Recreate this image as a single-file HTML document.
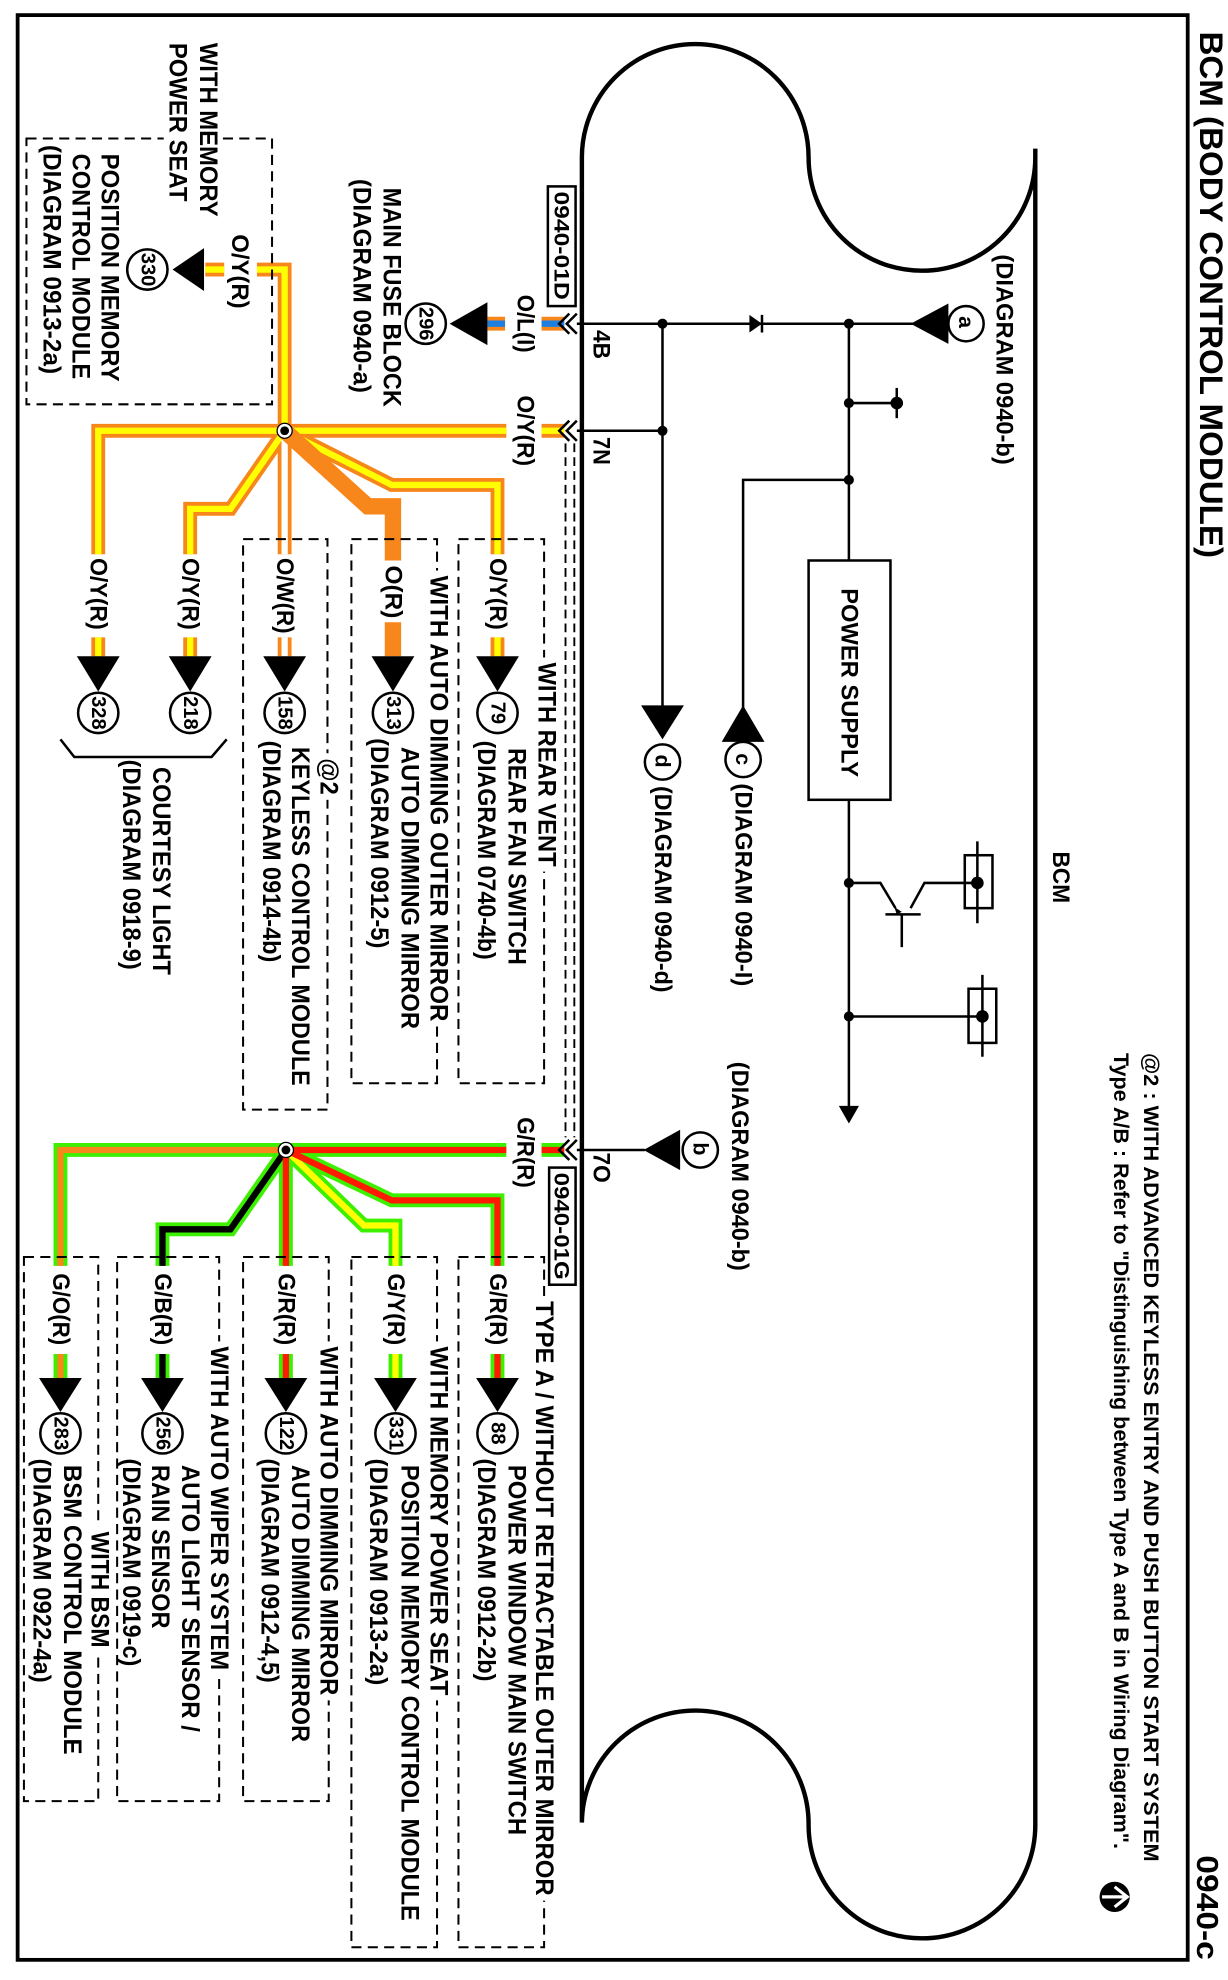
<!DOCTYPE html>
<html><head><meta charset="utf-8"><style>
html,body{margin:0;padding:0;background:#fff;}
svg{display:block;}
text{font-family:"Liberation Sans",sans-serif;font-weight:bold;fill:#000;}
</style></head><body>
<svg xmlns="http://www.w3.org/2000/svg" width="1228" height="1980" viewBox="0 0 975 1572" preserveAspectRatio="none">
<rect x="0" y="0" width="975" height="1572" fill="#fff"/>
<rect x="14" y="12" width="929" height="1544" fill="none" stroke="#000" stroke-width="3"/>

<path d="M462,1447 V125 A90,90 0 0 1 642,125 A90,90 0 0 0 822,125 M822,118 V1449 A90,90 0 0 1 642,1449 A90,90 0 0 0 462,1447" fill="none" stroke="#000" stroke-width="3.5"/>

<g stroke="#000" stroke-width="2" fill="none">
<path d="M462,257 H725"/>
<path d="M526,257 V562"/>
<path d="M462,342 H526"/>
<path d="M674,257 V445"/>
<path d="M674,320 H712"/>
<path d="M712,308 V332"/>
<path d="M674,381 H590 V589"/>
<rect x="642" y="445" width="65" height="190"/>
<path d="M674,635 V880"/>
<path d="M674,701 H699 L711,721 M703,726 H731 M716,726 V752 M723,721 L734,701 H776"/>
<rect x="766" y="679" width="22" height="42"/>
<path d="M776,668 V733"/>
<path d="M674,807 H780"/>
<rect x="769" y="785" width="22" height="43"/>
<path d="M780,774 V839"/>
<path d="M462,913 H512"/>
<path d="M605,250 V264"/>
</g>
<g fill="#000">
<circle cx="526" cy="257" r="4"/><circle cx="674" cy="257" r="4"/>
<circle cx="526" cy="342" r="4"/><circle cx="674" cy="320" r="4"/>
<circle cx="674" cy="381" r="4"/><circle cx="712" cy="320" r="5"/>
<circle cx="674" cy="701" r="4"/><circle cx="776" cy="701" r="5"/>
<circle cx="674" cy="807" r="4"/><circle cx="780" cy="807" r="5"/>
<polygon points="595,250 605,257 595,264"/>
<polygon points="723,257 753,241 753,273"/>
<polygon points="509,560 543,560 526,587"/>
<polygon points="573,589 607,589 590,560"/>
<polygon points="666,878 682,878 674,892"/>
<polygon points="710,720 716,724 712,726"/>
<polygon points="511,913 540,897 540,929"/>
</g>
<g fill="#fff" stroke="#000" stroke-width="2">
<circle cx="767" cy="257" r="14"/>
<circle cx="526" cy="605" r="14"/>
<circle cx="590" cy="603" r="14"/>
<circle cx="556" cy="913" r="14"/>
</g>
<g font-size="17">
<text transform="translate(767,251) rotate(90)" dominant-baseline="central">a</text>
<text transform="translate(526,599) rotate(90)" dominant-baseline="central">d</text>
<text transform="translate(590,598) rotate(90)" dominant-baseline="central">c</text>
<text transform="translate(556,907) rotate(90)" dominant-baseline="central">b</text>
</g>

<g stroke="#000" stroke-width="1.5" stroke-dasharray="7,4" fill="none">
<path d="M449,352 V903"/><path d="M456,352 V903"/>
</g>

<g fill="none" stroke-linejoin="miter">
<g stroke="#f7861b" stroke-width="11">
<path d="M401,257 H387"/><path d="M430,257 H448"/>
<path d="M402,342 H226"/><path d="M430,342 H448"/>
<path d="M226,342 V214 H204"/><path d="M178,214 H163"/>
<path d="M226,342 H78 V440"/><path d="M78,506 V521"/>
<path d="M226,342 L183,404 H151 V440"/><path d="M151,506 V521"/>
<path d="M226,342 L311,385 H395 V440"/><path d="M395,506 V521"/>
<path d="M226,342 V440"/><path d="M226,506 V521"/>
</g>
<g stroke="#1e7fe0" stroke-width="5"><path d="M401,257 H387"/><path d="M430,257 H448"/></g>
<g stroke="#ffff00" stroke-width="5">
<path d="M402,342 H226"/><path d="M430,342 H448"/>
<path d="M226,342 V214 H204"/><path d="M178,214 H163"/>
<path d="M226,342 H78 V440"/><path d="M78,506 V521"/>
<path d="M226,342 L183,404 H151 V440"/><path d="M151,506 V521"/>
<path d="M226,342 L311,385 H395 V440"/><path d="M395,506 V521"/>
</g>
<g stroke="#fff" stroke-width="5"><path d="M226,346 V440"/><path d="M226,506 V521"/></g>
<g stroke="#f7861b" stroke-width="13"><path d="M226,342 L292,402 H312 V445"/><path d="M312,494 V521"/></g>
</g>

<g fill="none">
<g stroke="#3cf000" stroke-width="11">
<path d="M402,913 H227"/><path d="M430,913 H448"/>
<path d="M227,913 H48 V1005"/><path d="M48,1075 V1094"/>
<path d="M227,913 L183,976 H129 V1005"/><path d="M129,1075 V1094"/>
<path d="M227,913 V1005"/><path d="M227,1075 V1094"/>
<path d="M227,913 L289,973 H314 V1005"/><path d="M314,1075 V1094"/>
<path d="M227,913 L311,953 H395 V1005"/><path d="M395,1075 V1094"/>
</g>
<g stroke="#f7861b" stroke-width="5"><path d="M227,913 H48 V1005"/><path d="M48,1075 V1094"/></g>
<g stroke="#000" stroke-width="5"><path d="M227,913 L183,976 H129 V1005"/><path d="M129,1075 V1094"/></g>
<g stroke="#ffff00" stroke-width="5"><path d="M227,913 L289,973 H314 V1005"/><path d="M314,1075 V1094"/></g>
<g stroke="#ff1a00" stroke-width="5">
<path d="M402,913 H227"/><path d="M430,913 H448"/>
<path d="M227,913 V1005"/><path d="M227,1075 V1094"/>
<path d="M227,913 L311,953 H395 V1005"/><path d="M395,1075 V1094"/>
</g>
</g>

<g fill="none" stroke="#000" stroke-width="2">
<path d="M452,249 L444,257 L452,265 M458,249 L450,257 L458,265"/>
<path d="M452,334 L444,342 L452,350 M458,334 L450,342 L458,350"/>
<path d="M452,905 L444,913 L452,921 M458,905 L450,913 L458,921"/>
<path d="M458,257 H462 M458,342 H462 M458,913 H462"/>
</g>
<g><circle cx="226" cy="342" r="6" fill="#fff" stroke="#000" stroke-width="1"/><circle cx="226" cy="342" r="3.5" fill="#000"/>
<circle cx="227" cy="913" r="6" fill="#fff" stroke="#000" stroke-width="1"/><circle cx="227" cy="913" r="3.5" fill="#000"/></g>

<g fill="#000">
<polygon points="357,257 387,240 387,274"/>
<polygon points="137,214 162,197 162,231"/>
<polygon points="61,521 95,521 78,549"/>
<polygon points="134,521 168,521 151,549"/>
<polygon points="209,521 243,521 226,549"/>
<polygon points="295,521 329,521 312,549"/>
<polygon points="378,521 412,521 395,549"/>
<polygon points="31,1094 65,1094 48,1121"/>
<polygon points="112,1094 146,1094 129,1121"/>
<polygon points="210,1094 244,1094 227,1121"/>
<polygon points="297,1094 331,1094 314,1121"/>
<polygon points="378,1094 412,1094 395,1121"/>
</g>
<g fill="#fff" stroke="#000" stroke-width="2">
<circle cx="338" cy="257" r="16"/><circle cx="117" cy="214" r="16"/>
<circle cx="78" cy="566" r="16"/><circle cx="151" cy="566" r="16"/><circle cx="226" cy="566" r="16"/>
<circle cx="312" cy="566" r="16"/><circle cx="395" cy="566" r="16"/>
<circle cx="48" cy="1138" r="16"/><circle cx="129" cy="1138" r="16"/><circle cx="227" cy="1138" r="16"/>
<circle cx="314" cy="1138" r="16"/><circle cx="395" cy="1138" r="16"/>
</g>
<g font-size="16" text-anchor="middle" dominant-baseline="central">
<text transform="translate(338,257) rotate(90)">296</text>
<text transform="translate(117,214) rotate(90)">330</text>
<text transform="translate(78,566) rotate(90)">328</text>
<text transform="translate(151,566) rotate(90)">218</text>
<text transform="translate(226,566) rotate(90)">158</text>
<text transform="translate(312,566) rotate(90)">313</text>
<text transform="translate(395,566) rotate(90)">79</text>
<text transform="translate(48,1138) rotate(90)">283</text>
<text transform="translate(129,1138) rotate(90)">256</text>
<text transform="translate(227,1138) rotate(90)">122</text>
<text transform="translate(314,1138) rotate(90)">331</text>
<text transform="translate(395,1138) rotate(90)">88</text>
</g>

<g fill="none" stroke="#000" stroke-width="1.6" stroke-dasharray="8,5">
<rect x="21" y="110" width="195" height="211"/>
<rect x="193" y="428" width="67" height="453"/>
<rect x="279" y="428" width="68" height="432"/>
<rect x="364" y="428" width="68" height="432"/>
<rect x="19" y="998" width="59" height="432"/>
<rect x="93" y="998" width="81" height="432"/>
<rect x="193" y="998" width="68" height="432"/>
<rect x="279" y="998" width="68" height="548"/>
<rect x="364" y="998" width="68" height="548"/>
</g>
<g fill="#fff">
<rect x="424" y="522" width="20" height="170"/>
<rect x="338" y="453" width="20" height="362"/>
<rect x="251" y="598" width="20" height="37"/>
<rect x="422" y="1029" width="20" height="480"/>
<rect x="338" y="1065" width="20" height="285"/>
<rect x="251" y="1065" width="20" height="285"/>
<rect x="164" y="1065" width="20" height="265"/>
<rect x="69" y="1212" width="20" height="104"/>
<rect x="130" y="30" width="46" height="150"/>
</g>
<path d="M48,587 L59,601 H168 L180,587" fill="none" stroke="#000" stroke-width="2"/>

<rect x="435" y="148" width="22" height="95" fill="#fff" stroke="#000" stroke-width="2"/>
<rect x="436" y="927" width="21" height="93" fill="#fff" stroke="#000" stroke-width="2"/>

<g dominant-baseline="central">
<text font-size="26" transform="translate(962,25) rotate(90)" textLength="418" lengthAdjust="spacingAndGlyphs">BCM (BODY CONTROL MODULE)</text>
<text font-size="24" transform="translate(958,1473) rotate(90)" textLength="83" lengthAdjust="spacingAndGlyphs">0940-c</text>
<text font-size="17" transform="translate(914,836) rotate(90)" textLength="642" lengthAdjust="spacingAndGlyphs">@2 : WITH ADVANCED KEYLESS ENTRY AND PUSH BUTTON START SYSTEM</text>
<text font-size="17" transform="translate(890,836) rotate(90)" textLength="632" lengthAdjust="spacingAndGlyphs">Type A/B : Refer to "Distinguishing between Type A and B in Wiring Diagram".</text>
<text font-size="19" transform="translate(797,202) rotate(90)" textLength="167" lengthAdjust="spacingAndGlyphs">(DIAGRAM 0940-b)</text>
<text font-size="19" transform="translate(842,676) rotate(90)" textLength="41" lengthAdjust="spacingAndGlyphs">BCM</text>
<text font-size="19" transform="translate(674,467) rotate(90)" textLength="150" lengthAdjust="spacingAndGlyphs">POWER SUPPLY</text>
<text font-size="19" transform="translate(526,624) rotate(90)" textLength="164" lengthAdjust="spacingAndGlyphs">(DIAGRAM 0940-d)</text>
<text font-size="19" transform="translate(590,622) rotate(90)" textLength="161" lengthAdjust="spacingAndGlyphs">(DIAGRAM 0940-I)</text>
<text font-size="19" transform="translate(587,843) rotate(90)" textLength="166" lengthAdjust="spacingAndGlyphs">(DIAGRAM 0940-b)</text>
<text font-size="19" transform="translate(477,262) rotate(90)" textLength="23" lengthAdjust="spacingAndGlyphs">4B</text>
<text font-size="19" transform="translate(477,347) rotate(90)" textLength="22" lengthAdjust="spacingAndGlyphs">7N</text>
<text font-size="19" transform="translate(477,915) rotate(90)" textLength="24" lengthAdjust="spacingAndGlyphs">7O</text>
<text font-size="17" transform="translate(446,152) rotate(90)" textLength="86" lengthAdjust="spacingAndGlyphs">0940-01D</text>
<text font-size="17" transform="translate(446,931) rotate(90)" textLength="85" lengthAdjust="spacingAndGlyphs">0940-01G</text>
<text font-size="19" transform="translate(417,234) rotate(90)" textLength="46" lengthAdjust="spacingAndGlyphs">O/L(I)</text>
<text font-size="19" transform="translate(417,314) rotate(90)" textLength="56" lengthAdjust="spacingAndGlyphs">O/Y(R)</text>
<text font-size="19" transform="translate(417,887) rotate(90)" textLength="56" lengthAdjust="spacingAndGlyphs">G/R(R)</text>
<text font-size="20" transform="translate(311,149) rotate(90)" textLength="174" lengthAdjust="spacingAndGlyphs">MAIN FUSE BLOCK</text>
<text font-size="20" transform="translate(287,142) rotate(90)" textLength="170" lengthAdjust="spacingAndGlyphs">(DIAGRAM 0940-a)</text>
<text font-size="20" transform="translate(165,34) rotate(90)" textLength="138" lengthAdjust="spacingAndGlyphs">WITH MEMORY</text>
<text font-size="20" transform="translate(141,34) rotate(90)" textLength="126" lengthAdjust="spacingAndGlyphs">POWER SEAT</text>
<text font-size="19" transform="translate(190,186) rotate(90)" textLength="59" lengthAdjust="spacingAndGlyphs">O/Y(R)</text>
<text font-size="20" transform="translate(87,122) rotate(90)" textLength="181" lengthAdjust="spacingAndGlyphs">POSITION MEMORY</text>
<text font-size="20" transform="translate(64,122) rotate(90)" textLength="179" lengthAdjust="spacingAndGlyphs">CONTROL MODULE</text>
<text font-size="20" transform="translate(41,115) rotate(90)" textLength="182" lengthAdjust="spacingAndGlyphs">(DIAGRAM 0913-2a)</text>

<text font-size="19" transform="translate(78,443) rotate(90)" textLength="57" lengthAdjust="spacingAndGlyphs">O/Y(R)</text>
<text font-size="19" transform="translate(151,443) rotate(90)" textLength="57" lengthAdjust="spacingAndGlyphs">O/Y(R)</text>
<text font-size="19" transform="translate(226,443) rotate(90)" textLength="60" lengthAdjust="spacingAndGlyphs">O/W(R)</text>
<text font-size="19" transform="translate(312,449) rotate(90)" textLength="42" lengthAdjust="spacingAndGlyphs">O(R)</text>
<text font-size="19" transform="translate(395,443) rotate(90)" textLength="57" lengthAdjust="spacingAndGlyphs">O/Y(R)</text>

<text font-size="20" transform="translate(434,526) rotate(90)" textLength="162" lengthAdjust="spacingAndGlyphs">WITH REAR VENT</text>
<text font-size="20" transform="translate(348,457) rotate(90)" textLength="354" lengthAdjust="spacingAndGlyphs">WITH AUTO DIMMING OUTER MIRROR</text>
<text font-size="20" transform="translate(261,602) rotate(90)" textLength="29" lengthAdjust="spacingAndGlyphs">@2</text>
<text font-size="20" transform="translate(410,594) rotate(90)" textLength="172" lengthAdjust="spacingAndGlyphs">REAR FAN SWITCH</text>
<text font-size="20" transform="translate(386,588) rotate(90)" textLength="174" lengthAdjust="spacingAndGlyphs">(DIAGRAM 0740-4b)</text>
<text font-size="20" transform="translate(325,593) rotate(90)" textLength="224" lengthAdjust="spacingAndGlyphs">AUTO DIMMING MIRROR</text>
<text font-size="20" transform="translate(301,586) rotate(90)" textLength="167" lengthAdjust="spacingAndGlyphs">(DIAGRAM 0912-5)</text>
<text font-size="20" transform="translate(238,593) rotate(90)" textLength="269" lengthAdjust="spacingAndGlyphs">KEYLESS CONTROL MODULE</text>
<text font-size="20" transform="translate(215,588) rotate(90)" textLength="176" lengthAdjust="spacingAndGlyphs">(DIAGRAM 0914-4b)</text>
<text font-size="20" transform="translate(128,609) rotate(90)" textLength="165" lengthAdjust="spacingAndGlyphs">COURTESY LIGHT</text>
<text font-size="20" transform="translate(104,603) rotate(90)" textLength="167" lengthAdjust="spacingAndGlyphs">(DIAGRAM 0918-9)</text>

<text font-size="19" transform="translate(48,1011) rotate(90)" textLength="57" lengthAdjust="spacingAndGlyphs">G/O(R)</text>
<text font-size="19" transform="translate(129,1011) rotate(90)" textLength="57" lengthAdjust="spacingAndGlyphs">G/B(R)</text>
<text font-size="19" transform="translate(227,1011) rotate(90)" textLength="57" lengthAdjust="spacingAndGlyphs">G/R(R)</text>
<text font-size="19" transform="translate(314,1011) rotate(90)" textLength="57" lengthAdjust="spacingAndGlyphs">G/Y(R)</text>
<text font-size="19" transform="translate(395,1011) rotate(90)" textLength="57" lengthAdjust="spacingAndGlyphs">G/R(R)</text>

<text font-size="20" transform="translate(432,1033) rotate(90)" textLength="472" lengthAdjust="spacingAndGlyphs">TYPE A / WITHOUT RETRACTABLE OUTER MIRROR</text>
<text font-size="20" transform="translate(410,1163) rotate(90)" textLength="294" lengthAdjust="spacingAndGlyphs">POWER WINDOW MAIN SWITCH</text>
<text font-size="20" transform="translate(386,1158) rotate(90)" textLength="177" lengthAdjust="spacingAndGlyphs">(DIAGRAM 0912-2b)</text>
<text font-size="20" transform="translate(348,1069) rotate(90)" textLength="277" lengthAdjust="spacingAndGlyphs">WITH MEMORY POWER SEAT</text>
<text font-size="20" transform="translate(325,1163) rotate(90)" textLength="362" lengthAdjust="spacingAndGlyphs">POSITION MEMORY CONTROL MODULE</text>
<text font-size="20" transform="translate(300,1158) rotate(90)" textLength="180" lengthAdjust="spacingAndGlyphs">(DIAGRAM 0913-2a)</text>
<text font-size="20" transform="translate(261,1069) rotate(90)" textLength="277" lengthAdjust="spacingAndGlyphs">WITH AUTO DIMMING MIRROR</text>
<text font-size="20" transform="translate(238,1163) rotate(90)" textLength="220" lengthAdjust="spacingAndGlyphs">AUTO DIMMING MIRROR</text>
<text font-size="20" transform="translate(214,1158) rotate(90)" textLength="178" lengthAdjust="spacingAndGlyphs">(DIAGRAM 0912-4,5)</text>
<text font-size="20" transform="translate(174,1069) rotate(90)" textLength="257" lengthAdjust="spacingAndGlyphs">WITH AUTO WIPER SYSTEM</text>
<text font-size="20" transform="translate(151,1163) rotate(90)" textLength="212" lengthAdjust="spacingAndGlyphs">AUTO LIGHT SENSOR /</text>
<text font-size="20" transform="translate(127,1163) rotate(90)" textLength="130" lengthAdjust="spacingAndGlyphs">RAIN SENSOR</text>
<text font-size="20" transform="translate(104,1158) rotate(90)" textLength="165" lengthAdjust="spacingAndGlyphs">(DIAGRAM 0919-c)</text>
<text font-size="20" transform="translate(79,1216) rotate(90)" textLength="92" lengthAdjust="spacingAndGlyphs">WITH BSM</text>
<text font-size="20" transform="translate(57,1163) rotate(90)" textLength="230" lengthAdjust="spacingAndGlyphs">BSM CONTROL MODULE</text>
<text font-size="20" transform="translate(33,1158) rotate(90)" textLength="178" lengthAdjust="spacingAndGlyphs">(DIAGRAM 0922-4a)</text>
</g>

<g>
<circle cx="885" cy="1506" r="12" fill="#000"/>
<path d="M875,1506 H895 M885,1498 L895,1506 L885,1514" fill="none" stroke="#fff" stroke-width="2.5"/>
</g>
</svg>
</body></html>
